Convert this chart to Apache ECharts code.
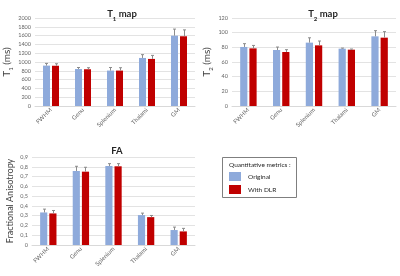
<!DOCTYPE html>
<html>
<head>
<meta charset="utf-8">
<script src="https://cdn.jsdelivr.net/npm/echarts@6/dist/echarts.min.js"></script>
<style>
  html, body { margin: 0; padding: 0; background: #fff; }
  #chart { width: 400px; height: 276px; }
</style>
</head>
<body>
<div id="chart"></div>
<script>
// regions (same for all three panels)
const categories = ["FWHM", "Genu", "Splenium", "Thalami", "GM"];

// T1 map (ms)
const t1Original = [918, 840, 805, 1092, 1598];
const t1OriginalErr = [50, 35, 70, 75, 150];
const t1Dlr = [915, 835, 805, 1070, 1585];
const t1DlrErr = [45, 35, 65, 80, 145];
const t1Ticks = { min: 0, max: 2000, interval: 200 };

// T2 map (ms)
const t2Original = [80.5, 76.4, 86.4, 78.2, 95];
const t2OriginalErr = [4.5, 4, 6.6, 0.8, 7.7];
const t2Dlr = [78.6, 73.6, 82.7, 76.8, 93.2];
const t2DlrErr = [4, 3.2, 5.9, 0.9, 8.2];
const t2Ticks = { min: 0, max: 120, interval: 20 };

// FA
const faOriginal = [0.333, 0.757, 0.808, 0.306, 0.153];
const faOriginalErr = [0.034, 0.048, 0.024, 0.02, 0.03];
const faDlr = [0.323, 0.75, 0.805, 0.285, 0.139];
const faDlrErr = [0.03, 0.045, 0.027, 0.017, 0.031];
const faTicks = { min: 0, max: 0.9, interval: 0.1 };

const seriesNames = ["Original", "With DLR"];
const legendTitle = "Quantitative metrics :";

const BLUE = "#8eaadb";
const RED = "#c00000";
const FONT = "Lato, 'Open Sans', sans-serif";
const BAR_W = 0.22;   // share of the category band
const BAR_GAP = 0.28; // share of a bar

const chart = echarts.init(document.getElementById("chart"), null, { renderer: "canvas" });

const grids = [
  { left: 35, top: 18, width: 160, height: 88 },
  { left: 232, top: 18, width: 164, height: 88 },
  { left: 32, top: 157, width: 163, height: 88 },
];

const xAxis = grids.map((g, i) => ({
  type: "category",
  gridIndex: i,
  data: categories,
  axisLine: { lineStyle: { color: "#d9d9d9" } },
  axisTick: { show: false },
  axisLabel: { rotate: 45, fontSize: 6, color: "#666", fontFamily: FONT, margin: 3, interval: 0 },
}));

const sub = { fontSize: 6, verticalAlign: "bottom", padding: [0, 0, -3, 0], fontFamily: FONT };

function yAxisFor(i, ticks, name, fmt, nameGap, nameSize) {
  return {
    type: "value",
    gridIndex: i,
    min: ticks.min,
    max: ticks.max,
    interval: ticks.interval,
    name: name,
    nameLocation: "middle",
    nameGap: nameGap,
    nameRotate: 90,
    nameTextStyle: {
      fontSize: nameSize, color: "#404040", fontFamily: FONT,
      rich: { sub: Object.assign({ color: "#404040" }, sub) },
    },
    axisLine: { show: false },
    axisTick: { show: false },
    splitLine: { lineStyle: { color: "#e3e3e3", width: 1 } },
    axisLabel: { fontSize: 5.5, color: "#666", fontFamily: FONT, margin: 4, formatter: fmt },
  };
}

const yAxis = [
  yAxisFor(0, t1Ticks, "T{sub|1} (ms)", v => String(v), 17, 10),
  yAxisFor(1, t2Ticks, "T{sub|2} (ms)", v => String(v), 15, 10),
  yAxisFor(2, faTicks, "Fractional Anisotropy", v => String(+v.toFixed(1)).replace(".", ","), 17, 9),
];

function barSeries(name, color, gi, data) {
  return {
    name: name,
    type: "bar",
    xAxisIndex: gi,
    yAxisIndex: gi,
    data: data,
    barWidth: BAR_W * 100 + "%",
    barGap: BAR_GAP * 100 + "%",
    itemStyle: { color: color },
    silent: true,
  };
}

function errSeries(gi, vals, errs, side) {
  return {
    type: "custom",
    xAxisIndex: gi,
    yAxisIndex: gi,
    silent: true,
    z: 10,
    data: vals.map((v, i) => [i, v, errs[i]]),
    renderItem: (params, api) => {
      const band = api.size([1, 0])[0];
      const bw = band * BAR_W;
      const off = side * (bw + bw * BAR_GAP) / 2;
      const p0 = api.coord([api.value(0), api.value(1)]);
      const p1 = api.coord([api.value(0), api.value(1) + api.value(2)]);
      const x = Math.round(p0[0] + off) + 0.5;
      const st = { stroke: "#8c8c8c", lineWidth: 1 };
      return {
        type: "group",
        children: [
          { type: "line", shape: { x1: x, y1: p0[1], x2: x, y2: p1[1] }, style: st },
          { type: "line", shape: { x1: x - 1.5, y1: p1[1], x2: x + 1.5, y2: p1[1] }, style: st },
        ],
      };
    },
  };
}

const panels = [
  [t1Original, t1OriginalErr, t1Dlr, t1DlrErr],
  [t2Original, t2OriginalErr, t2Dlr, t2DlrErr],
  [faOriginal, faOriginalErr, faDlr, faDlrErr],
];

const series = [];
panels.forEach((p, gi) => {
  series.push(barSeries(seriesNames[0], BLUE, gi, p[0]));
  series.push(barSeries(seriesNames[1], RED, gi, p[2]));
  series.push(errSeries(gi, p[0], p[1], -1));
  series.push(errSeries(gi, p[2], p[3], 1));
});

const titleStyle = {
  fontSize: 9.5, fontWeight: "bold", color: "#262626", fontFamily: FONT,
  rich: { sub: Object.assign({ fontWeight: "bold", color: "#262626" }, sub) },
};

chart.setOption({
  animation: false,
  title: [
    { text: "T{sub|1} map", left: 117, top: 4, textAlign: "center", textStyle: titleStyle },
    { text: "T{sub|2} map", left: 318, top: 4, textAlign: "center", textStyle: titleStyle },
    { text: "FA", left: 112, top: 141, textAlign: "center", textStyle: titleStyle },
  ],
  legend: {
    data: seriesNames,
    orient: "vertical",
    left: 229,
    top: 172,
    padding: 0,
    itemWidth: 12,
    itemHeight: 9,
    itemGap: 4,
    icon: "rect",
    textStyle: { fontSize: 6.5, color: "#262626", fontFamily: FONT, padding: [0, 0, 0, 2] },
    selectedMode: false,
  },
  graphic: [
    {
      type: "rect",
      shape: { x: 222.5, y: 157.5, width: 74, height: 40 },
      style: { fill: "none", stroke: "#7f7f7f", lineWidth: 1 },
    },
    {
      type: "text",
      x: 229,
      y: 161,
      style: { text: legendTitle, fontSize: 6.5, fill: "#262626", fontFamily: FONT },
    },
  ],
  grid: grids,
  xAxis: xAxis,
  yAxis: yAxis,
  series: series,
});
</script>
</body>
</html>
